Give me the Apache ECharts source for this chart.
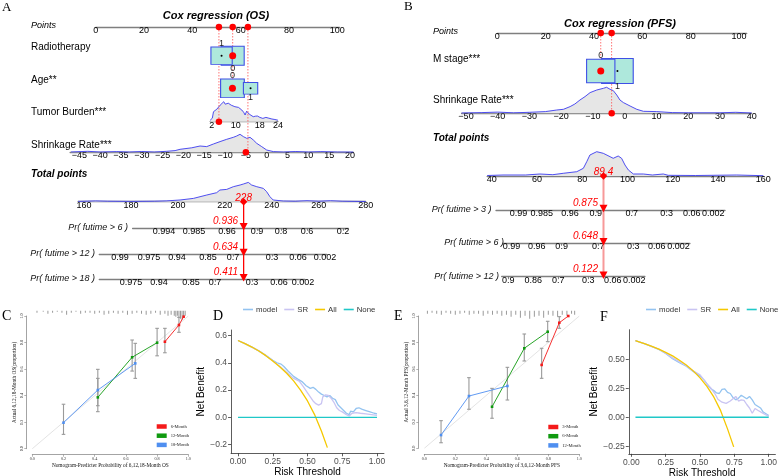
<!DOCTYPE html>
<html><head><meta charset="utf-8">
<script src="https://cdn.jsdelivr.net/npm/echarts@6/dist/echarts.min.js"></script>
<style>html,body{margin:0;padding:0;background:#fff}#c{width:778px;height:476px}</style>
</head><body><div id="c"></div>
<script>
// ================= DATA =================
// ---- Panel A : nomogram, Cox regression (OS)
const A_pointTicks = [0, 20, 40, 60, 80, 100];
const A_radioLevels = ['0', '1'];            // draw order (1 drawn on top)
const A_radioPoints = [56.7, 52.1];
const A_ageLevels = ['0', '1'];
const A_agePoints = [56.6, 64.1];
const A_tumorTicks = [2, 10, 18, 24];
const A_tumorDens = [[1.5,1.5],[2.2,3.5],[2.6,10],[3.1,9],[3.7,12.5],[4.2,13.5],[4.8,16.5],[5.4,17],[6.0,20],[6.5,17.5],[7.0,15.5],[7.5,18.5],[7.9,20],[8.5,16.5],[9.1,17.5],[9.7,15],[10.3,15.5],[10.9,14.3],[11.5,13.5],[12.0,11.7],[12.6,9.5],[13.1,6.7],[13.6,10.5],[14.0,11.5],[14.5,7.5],[15.0,6.5],[15.8,5],[16.5,5.5],[17.2,5.7],[18.0,4.3],[19.0,3.3],[20.0,4.3],[21.0,3.5],[22.0,2.7],[23.0,2.2],[24.0,1.5]];
const A_shrinkTicks = [-45, -40, -35, -30, -25, -20, -15, -10, -5, 0, 5, 10, 15, 20];
const A_shrinkDens = [[-47,0.3],[-43,1],[-40,0.3],[-36,0.7],[-33,0.3],[-30,0.8],[-27,0.3],[-24,1],[-22,1.7],[-20.8,3],[-18,4.5],[-16,6.3],[-14.4,5.7],[-12.8,8.3],[-11.2,10.7],[-9.6,13],[-8.0,15],[-7.2,16.3],[-6.4,18],[-5.6,15.7],[-4.8,14],[-4.0,15],[-3.2,12.3],[-2.4,9],[-1.2,5.7],[0,2.3],[1.6,0.7],[4,0.3],[7,0.8],[10,0.3],[13,0.7],[17,0.3],[20.8,0.2]];
const A_totalTicks = [160, 180, 200, 220, 240, 260, 280];
const A_totalDens = [[157.5,0.3],[165,0.8],[170,0.5],[180,0.3],[190,0.5],[195,0.8],[200.9,1.7],[206.6,3.3],[212.3,6.7],[216.5,9],[217.9,11.7],[220.8,12.3],[223.6,15],[226.5,16.7],[227.9,17.7],[230.0,19.3],[231.4,16.7],[233.6,15],[236.4,13.3],[237.8,10],[239.2,5],[240.6,1.7],[244.9,0.7],[250,0.5],[255,1],[260,0.5],[265,1],[270,0.5],[280,0.2]];
const A_prNames = ['Pr( futime > 6 )', 'Pr( futime > 12 )', 'Pr( futime > 18 )'];
const A_prRange = [[180.7, 272.6], [166.5, 263.4], [166.5, 254.1]];
const A_prPos = [[194.1, 206.9, 220.9, 233.7, 243.9, 255.0, 270.3],
                 [175.3, 187.7, 199.6, 212.8, 223.5, 240.1, 251.2, 262.7],
                 [180.0, 191.9, 205.6, 215.8, 231.6, 243.1, 253.3]];
const A_prLab = [['0.994','0.985','0.96','0.9','0.8','0.6','0.2'],
                 ['0.99','0.975','0.94','0.85','0.7','0.3','0.06','0.002'],
                 ['0.975','0.94','0.85','0.7','0.3','0.06','0.002']];
const A_selRadio = '0', A_selAge = '0', A_selTumor = 4.4, A_selShrink = -5;
const A_total = 228;
const A_pred = [0.936, 0.634, 0.411];
const A_markPts = [51.0, 56.7, 63.0];
const A_markRow = ['tumor', 'age', 'shrink'];

// ---- Panel B : nomogram, Cox regression (PFS)
const B_pointTicks = [0, 20, 40, 60, 80, 100];
const B_mLevels = ['1', '0'];                // draw order (0 drawn on top)
const B_mPoints = [49.7, 42.8];
const B_shrinkTicks = [-50, -40, -30, -20, -10, 0, 10, 20, 30, 40];
const B_shrinkDens = [[-51.4,0.3],[-45,0.7],[-40,1.2],[-35,0.5],[-30,1],[-25,1.7],[-21.4,3.3],[-19.3,4],[-17.2,6.7],[-15.7,9.3],[-14.1,13.3],[-12.5,16.7],[-10.9,20.7],[-8.8,23.3],[-6.7,25],[-5.7,26],[-4.6,24],[-3.6,22.7],[-2.5,18.3],[-1.5,13.3],[-0.4,10.7],[1.7,7.3],[3.8,4],[5.9,2],[10.1,1.7],[15,0.7],[20,0.5],[30,0.5],[35,1],[40,0.3]];
const B_totalTicks = [40, 60, 80, 100, 120, 140, 160];
const B_totalDens = [[38,0.5],[45,1],[55,1],[61.3,2],[67,1.3],[71.6,2.7],[77.6,4.3],[80.5,7.7],[82.0,14.3],[83.4,21],[86.4,24.3],[89.3,22.7],[92.3,19.3],[93.7,17.7],[95.9,20],[97.4,17.7],[98.9,11],[100.4,6],[102.6,2],[107,2],[111,1],[115.8,2],[118,0.7],[130,0.5],[148.3,1],[160,0.3]];
const B_prNames = ['Pr( futime > 3 )', 'Pr( futime > 6 )', 'Pr( futime > 12 )'];
const B_prRange = [[41.9, 143.1], [45.1, 127.6], [44.4, 107.7]];
const B_prPos = [[51.8, 62.1, 74.6, 86.0, 101.9, 117.3, 128.4, 137.9],
                 [48.8, 59.9, 70.9, 87.1, 102.6, 112.9, 122.5],
                 [47.3, 58.4, 69.4, 82.7, 93.5, 103.0]];
const B_prLab = [['0.99','0.985','0.96','0.9','0.7','0.3','0.06','0.002'],
                 ['0.99','0.96','0.9','0.7','0.3','0.06','0.002'],
                 ['0.9','0.86','0.7','0.3','0.06','0.002']];
const B_selM = '0', B_selShrink = -4.1;
const B_total = 89.4;
const B_pred = [0.875, 0.648, 0.122];
const B_markPts = [42.8, 47.3];
const B_markRow = ['m', 'shrink'];

// ---- Panel C : calibration OS
const C_names = ['6-Month', '12-Month', '18-Month'];
const C_pred = [[0.85, 0.94, 0.97], [0.42, 0.64, 0.80], [0.20, 0.42, 0.66]];
const C_obs  = [[0.806, 0.932, 0.995], [0.387, 0.689, 0.799], [0.196, 0.442, 0.643]];
const C_lo   = [[0.723, 0.877, null], [0.279, 0.585, 0.70], [0.108, 0.324, 0.53]];
const C_hi   = [[0.907, 0.99, null], [0.53, 0.819, 0.907], [0.335, 0.598, 0.794]];
const C_rugX = [0.03,0.07,0.1,0.13,0.16,0.19,0.22,0.25,0.28,0.31,0.34,0.37,0.4,0.43,0.46,0.49,0.52,0.55,0.58,0.61,0.64,0.67,0.7,0.73,0.76,0.79,0.82,0.85,0.87,0.89,0.91,0.92,0.93,0.94,0.95,0.96,0.97,0.98];
const C_rugH = [2,1,3,2,1,2,4,2,1,3,2,2,3,2,4,3,2,3,2,4,3,2,3,4,3,2,4,3,5,4,5,6,5,7,8,9,7,5];
const IDEAL = [[0, 0], [1, 1]];

// ---- Panel E : calibration PFS
const E_names = ['3-Month', '6-Month', '12-Month'];
const E_pred = [[0.757, 0.871, 0.929], [0.437, 0.645, 0.796], [0.108, 0.288, 0.536]];
const E_obs  = [[0.63, 0.949, 1.0], [0.314, 0.756, 0.881], [0.10, 0.395, 0.471]];
const E_lo   = [[0.529, 0.907, null], [0.227, 0.66, 0.806], [0.042, 0.295, 0.365]];
const E_hi   = [[0.756, 0.995, null], [0.453, 0.864, 0.96], [0.209, 0.534, 0.612]];
const E_rugX = [0.02,0.05,0.08,0.11,0.14,0.17,0.2,0.23,0.26,0.29,0.32,0.35,0.38,0.41,0.44,0.47,0.5,0.53,0.56,0.59,0.62,0.65,0.68,0.71,0.74,0.77,0.8,0.83,0.86,0.89,0.92,0.95,0.97];
const E_rugH = [3,2,3,4,2,3,4,3,2,4,3,3,5,3,4,3,5,4,6,4,7,5,8,6,5,7,4,5,6,4,5,3,4];

// ---- Panel D : DCA OS
const D_allT = [0, 0.05, 0.10, 0.15, 0.20, 0.25, 0.30, 0.35, 0.40, 0.45, 0.50, 0.55, 0.60, 0.643];
const D_allV = [0.563, 0.540, 0.515, 0.486, 0.452, 0.413, 0.371, 0.323, 0.267, 0.200, 0.120, 0.022, -0.100, -0.222];
const D_modelT = [0, 0.05, 0.10, 0.15, 0.20, 0.25, 0.28, 0.31, 0.33, 0.36, 0.40, 0.43, 0.46, 0.49, 0.52, 0.54, 0.56, 0.58, 0.60, 0.62, 0.64, 0.66, 0.68, 0.70, 0.72, 0.74, 0.76, 0.78, 0.80, 0.81, 0.83, 0.85, 0.87, 0.89, 0.92, 0.95, 0.98, 1.00];
const D_modelV = [0.563, 0.540, 0.515, 0.487, 0.454, 0.418, 0.400, 0.390, 0.372, 0.340, 0.300, 0.280, 0.262, 0.232, 0.212, 0.220, 0.205, 0.185, 0.170, 0.160, 0.150, 0.160, 0.140, 0.130, 0.090, 0.070, 0.050, 0.030, 0.020, 0.045, 0.040, 0.065, 0.070, 0.060, 0.050, 0.040, 0.030, 0.025];
const D_srT = [0, 0.05, 0.10, 0.15, 0.20, 0.25, 0.30, 0.35, 0.40, 0.44, 0.47, 0.50, 0.52, 0.54, 0.56, 0.58, 0.60, 0.61, 0.63, 0.65, 0.67, 0.69, 0.71, 0.73, 0.75, 0.78, 0.80, 0.82, 0.85, 0.88, 0.92, 0.96, 1.00];
const D_srV = [0.563, 0.540, 0.515, 0.487, 0.453, 0.415, 0.375, 0.330, 0.285, 0.265, 0.225, 0.180, 0.150, 0.120, 0.100, 0.090, 0.100, 0.150, 0.165, 0.160, 0.140, 0.110, 0.070, 0.050, 0.040, 0.020, 0.010, 0.030, 0.035, 0.030, 0.025, 0.020, 0.015];
const D_noneT = [0, 1];
const D_noneV = [0, 0];

// ---- Panel F : DCA PFS
const F_allT = [0.03, 0.05, 0.10, 0.15, 0.20, 0.25, 0.30, 0.35, 0.40, 0.45, 0.50, 0.55, 0.60, 0.65, 0.70, 0.745];
const F_allV = [0.660, 0.653, 0.633, 0.612, 0.588, 0.560, 0.529, 0.492, 0.450, 0.400, 0.340, 0.267, 0.175, 0.057, -0.100, -0.255];
const F_modelT = [0.03, 0.10, 0.20, 0.25, 0.30, 0.35, 0.40, 0.45, 0.50, 0.53, 0.56, 0.58, 0.60, 0.62, 0.64, 0.66, 0.68, 0.70, 0.72, 0.74, 0.76, 0.78, 0.80, 0.82, 0.84, 0.86, 0.88, 0.90, 0.92, 0.94, 0.96, 0.98, 1.00];
const F_modelV = [0.660, 0.632, 0.585, 0.550, 0.505, 0.470, 0.440, 0.395, 0.355, 0.320, 0.270, 0.245, 0.230, 0.210, 0.205, 0.240, 0.245, 0.215, 0.205, 0.170, 0.150, 0.165, 0.190, 0.175, 0.160, 0.180, 0.150, 0.110, 0.095, 0.080, 0.045, 0.030, 0.015];
const F_srT = [0.03, 0.10, 0.20, 0.25, 0.30, 0.35, 0.40, 0.45, 0.50, 0.55, 0.58, 0.61, 0.63, 0.66, 0.69, 0.72, 0.74, 0.76, 0.78, 0.80, 0.82, 0.84, 0.86, 0.88, 0.90, 0.92, 0.95, 0.98, 1.00];
const F_srV = [0.660, 0.632, 0.586, 0.553, 0.512, 0.480, 0.445, 0.400, 0.365, 0.290, 0.250, 0.200, 0.155, 0.130, 0.120, 0.140, 0.160, 0.180, 0.140, 0.150, 0.145, 0.110, 0.080, 0.035, 0.075, 0.060, 0.040, 0.020, 0.010];
const F_noneT = [0.03, 1];
const F_noneV = [0, 0];

// ================= STYLE / LAYOUT =================
const SANS = '"Liberation Sans", Arial, sans-serif';
const SERIF = '"Liberation Serif", "Times New Roman", serif';
const BOX_FILL = '#aee8dc', BOX_LINE = '#3f4fe6', DENS_LINE = '#3b3bef', DENS_FILL = '#e6e6e6';
const RED = '#ff0000';
const COL_DCA = { model: '#93c3f0', SR: '#c9c4f2', All: '#f5c800', None: '#20c8c8' };
const COL_CAL = ['#f41a1a', '#109a10', '#4f8ff0'];

const LA = {
  pts: { px0: 95.7, k: 2.416, max: 101, y: 27 },
  rowY: { radio: 55.7, age: 88.3, tumor: 121.7, shrink: 152.3 },
  radioBox: [[23, 19], [21.3, 17.3]], radioLabPos: ['bottom', 'top'],
  ageBox: [[23.7, 18.7], [14.3, 11.7]], ageLabPos: ['top', 'bottom'],
  tumor: { min: 1.5, max: 24, k: 3.01, ref: 2, refPx: 211.7, h: 21 },
  shrink: { min: -47.2, max: 20.8, k: 4.164, ref: -45, refPx: 79.3, h: 19 },
  total: { min: 157.5, max: 280, k: 2.3475, ref: 160, refPx: 84, y: 201.7, h: 20 },
  prY: [228.3, 254, 279.3], prLabRight: [128, 95, 95]
};
const LB = {
  pts: { px0: 497.3, k: 2.417, max: 103.2, y: 33 },
  rowY: { m: 71, shrink: 113.3 },
  mBox: [[31.6, 25], [28.3, 23.4]], mLabPos: ['bottom', 'top'],
  shrink: { min: -51.4, max: 40, k: 3.174, ref: -50, refPx: 466, h: 27 },
  total: { min: 38, max: 160, k: 2.263, ref: 40, refPx: 491.7, y: 176, h: 25 },
  prY: [210, 243.3, 276.7], prLabRight: [491.5, 504, 499]
};

// ================= BUILD =================
const grids = [], xAxes = [], yAxes = [], series = [], texts = [];
function addGrid(left, top, width, height, xa, ya) {
  grids.push({ left, top, width, height, show: false, containLabel: false, outerBoundsMode: 'none' });
  const i = grids.length - 1;
  xa.gridIndex = i; ya.gridIndex = i; xAxes.push(xa); yAxes.push(ya);
  return i;
}
const minus = v => (v < 0 ? '\u2212' + Math.abs(v) : String(v));
function nearestLabel(v, ticks, labels) {
  let bi = 0, bd = Infinity;
  ticks.forEach((t, i) => { const d = Math.abs(t - v); if (d < bd) { bd = d; bi = i; } });
  return labels[bi];
}
function nomoX(min, max, ticks, labels, tick) {
  return {
    type: 'value', min, max, position: 'bottom',
    axisLine: { show: true, onZero: false, lineStyle: { color: '#7f7f7f', width: 1.3 } },
    axisTick: { show: !!tick, customValues: ticks, length: 2.5, lineStyle: { color: '#666', width: 0.8 } },
    axisLabel: { show: true, customValues: ticks, margin: -1, fontSize: 9, fontFamily: SANS, color: '#000',
      formatter: labels ? (v => nearestLabel(v, ticks, labels)) : (v => minus(nearestLabel(v, ticks, ticks))) },
    splitLine: { show: false }
  };
}
const hiddenX = (min, max) => ({ type: 'value', min, max, show: false, axisLine: { onZero: false } });
const hiddenY = (min, max, inverse) => ({ type: 'value', min, max, show: false, inverse: !!inverse, axisLine: { onZero: false } });
function dens(gi, data) {
  return { type: 'line', xAxisIndex: gi, yAxisIndex: gi, data, symbol: 'none', silent: true, z: 1,
    lineStyle: { color: DENS_LINE, width: 0.9 }, areaStyle: { color: DENS_FILL, opacity: 1, origin: 'start' } };
}
function dots(gi, data, color, size, extra) {
  return Object.assign({ type: 'scatter', xAxisIndex: gi, yAxisIndex: gi, data, symbol: 'circle', symbolSize: size,
    itemStyle: { color, opacity: 1 }, silent: true, z: 5 }, extra || {});
}
function boxes(gi, levels, pts, sizes, labPos) {
  return { type: 'scatter', xAxisIndex: gi, yAxisIndex: gi, symbol: 'rect', silent: true, z: 3,
    itemStyle: { color: BOX_FILL, borderColor: BOX_LINE, borderWidth: 1, opacity: 1 },
    data: levels.map((lv, i) => ({ name: lv, value: [pts[i], 0.5], symbolSize: sizes[i],
      label: { show: true, position: labPos[i], distance: -1.5, formatter: '{b}', fontSize: 9, fontFamily: SANS, color: '#222' } })) };
}
function addText(t, x, y, font, align, color) {
  texts.push({ type: 'text', x, y, silent: true, z: 10,
    style: { text: t, font, fill: color || '#000', align: align || 'left', verticalAlign: 'middle',
      textAlign: align || 'left', textVerticalAlign: 'middle' } });
}
const F9i = 'italic 9px ' + SANS, F10 = '10px ' + SANS, FB = 'italic bold 10px ' + SANS;

function axisGrid(spec, ticks, baseline) {
  const left = spec.refPx + (spec.min - spec.ref) * spec.k;
  const width = (spec.max - spec.min) * spec.k;
  return addGrid(left, baseline - spec.h, width, spec.h, nomoX(spec.min, spec.max, ticks), hiddenY(0, spec.h));
}

function buildNomogram(L, P) {
  const ptsW = L.pts.max * L.pts.k;
  const gP = addGrid(L.pts.px0, L.pts.y - 2, ptsW, 2, nomoX(0, L.pts.max, P.pointTicks), hiddenY(0, 1));
  series.push(dots(gP, P.markPts.map(p => [p, 0]), RED, 6.5));
  series.push({ type: 'custom', xAxisIndex: gP, yAxisIndex: gP, silent: true, z: 2,
    data: P.markPts.map((p, i) => [p, i]),
    renderItem: (params, api) => {
      const c = api.coord([api.value(0), 0]);
      const y2 = L.rowY[P.markRow[api.value(1)]];
      return { type: 'line', shape: { x1: c[0], y1: c[1], x2: c[0], y2 },
        style: { stroke: '#ff5050', lineWidth: 0.8, lineDash: [1.5, 1.5] } };
    } });
  P.catRows.forEach(r => {
    const g = addGrid(L.pts.px0, r.y - 12.5, ptsW, 25, hiddenX(0, L.pts.max), hiddenY(0, 1));
    series.push(boxes(g, r.levels, r.points, r.sizes, r.labPos));
    series.push(dots(g, r.levels.map((lv, i) => lv === r.sel ? null : [r.points[i], 0.5]).filter(Boolean), '#000', 2));
    series.push(dots(g, r.levels.map((lv, i) => lv === r.sel ? [r.points[i], 0.5] : null).filter(Boolean), RED, 7));
  });
  P.contRows.forEach(r => {
    const g = axisGrid(r.spec, r.ticks, r.y);
    series.push(dens(g, r.dens));
    series.push(dots(g, [[r.sel, 0]], RED, 6.5));
  });
  const T = L.total;
  const gT = axisGrid(T, P.totalTicks, T.y);
  series.push(dens(gT, P.totalDens));
  series.push(dots(gT, [[P.total, 0]], RED, 7.5, { symbol: 'diamond',
    label: { show: true, position: 'inside', offset: [0, -3.5], formatter: String(P.total), fontSize: 10,
      fontStyle: 'italic', fontFamily: SANS, color: RED } }));
  const tpx = v => T.refPx + (v - T.ref) * T.k;
  P.prRange.forEach((rg, i) => {
    const g = addGrid(tpx(rg[0]), L.prY[i] - 2, (rg[1] - rg[0]) * T.k, 2,
      nomoX(rg[0], rg[1], P.prPos[i], P.prLab[i], true), hiddenY(0, 1));
    series.push(dots(g, [[P.total, 0]], RED, [8, 7.5], { symbol: 'triangle', symbolRotate: 180, symbolOffset: [0, -1.5], z: 6,
      label: { show: true, position: 'left', distance: 1.5, offset: [0, -5.5], formatter: P.pred[i].toFixed(3),
        fontSize: 10, fontStyle: 'italic', fontFamily: SANS, color: RED } }));
    addText(P.prNames[i], L.prLabRight[i], L.prY[i] - 0.5, F9i, 'right', '#111');
  });
  const last = L.prY[L.prY.length - 1];
  const gV = addGrid(tpx(T.min), T.y, (T.max - T.min) * T.k, last - T.y, hiddenX(T.min, T.max), hiddenY(0, 1, true));
  series.push({ type: 'line', xAxisIndex: gV, yAxisIndex: gV, data: [[P.total, 0], [P.total, 1]], symbol: 'none', silent: true, z: 4,
    lineStyle: { color: P.vColor, width: P.vWidth } });
}

buildNomogram(LA, {
  pointTicks: A_pointTicks, markPts: A_markPts, markRow: A_markRow,
  catRows: [
    { y: LA.rowY.radio, levels: A_radioLevels, points: A_radioPoints, sizes: LA.radioBox, labPos: LA.radioLabPos, sel: A_selRadio },
    { y: LA.rowY.age, levels: A_ageLevels, points: A_agePoints, sizes: LA.ageBox, labPos: LA.ageLabPos, sel: A_selAge }
  ],
  contRows: [
    { spec: LA.tumor, ticks: A_tumorTicks, y: LA.rowY.tumor, dens: A_tumorDens, sel: A_selTumor },
    { spec: LA.shrink, ticks: A_shrinkTicks, y: LA.rowY.shrink, dens: A_shrinkDens, sel: A_selShrink }
  ],
  totalTicks: A_totalTicks, totalDens: A_totalDens, total: A_total,
  prRange: A_prRange, prPos: A_prPos, prLab: A_prLab, prNames: A_prNames, pred: A_pred,
  vColor: RED, vWidth: 1.3
});
buildNomogram(LB, {
  pointTicks: B_pointTicks, markPts: B_markPts, markRow: B_markRow,
  catRows: [
    { y: LB.rowY.m, levels: B_mLevels, points: B_mPoints, sizes: LB.mBox, labPos: LB.mLabPos, sel: B_selM }
  ],
  contRows: [
    { spec: LB.shrink, ticks: B_shrinkTicks, y: LB.rowY.shrink, dens: B_shrinkDens, sel: B_selShrink }
  ],
  totalTicks: B_totalTicks, totalDens: B_totalDens, total: B_total,
  prRange: B_prRange, prPos: B_prPos, prLab: B_prLab, prNames: B_prNames, pred: B_pred,
  vColor: 'rgba(240,70,70,0.55)', vWidth: 2
});

addText('A', 2, 8, '13px ' + SERIF);
addText('Cox regression (OS)', 216, 16, 'italic bold 11px ' + SANS, 'center');
addText('Points', 31, 25, F9i);
addText('Radiotherapy', 31, 47, F10);
addText('Age**', 31, 80, F10);
addText('Tumor Burden***', 31, 112, F10);
addText('Shrinkage Rate***', 31, 145, F10);
addText('Total points', 31, 174, FB);
addText('B', 404, 7, '13px ' + SERIF);
addText('Cox regression (PFS)', 620, 24, 'italic bold 11px ' + SANS, 'center');
addText('Points', 433, 31.5, F9i);
addText('M stage***', 433, 59, F10);
addText('Shrinkage Rate***', 433, 100, F10);
addText('Total points', 433, 138.3, FB);
addText('C', 2, 316, '14px ' + SERIF);
addText('D', 213, 316, '14px ' + SERIF);
addText('E', 394, 316, '14px ' + SERIF);
addText('F', 600, 317, '14px ' + SERIF);

// ---- calibration panels
const legends = [];
function errRender(params, api) {
  const x = api.value(0), lo = api.value(1), hi = api.value(2);
  const a = api.coord([x, lo]), b = api.coord([x, hi]), cap = 1.8;
  const st = { stroke: '#9a9a9a', lineWidth: 1.1 };
  return { type: 'group', children: [
    { type: 'line', shape: { x1: a[0], y1: a[1], x2: b[0], y2: b[1] }, style: st },
    { type: 'line', shape: { x1: a[0] - cap, y1: a[1], x2: a[0] + cap, y2: a[1] }, style: st },
    { type: 'line', shape: { x1: b[0] - cap, y1: b[1], x2: b[0] + cap, y2: b[1] }, style: st } ] };
}
function calPanel(tag, geo, names, pred, obs, lo, hi, rugX, rugH, xName, yName, legPos) {
  const tiny = { fontSize: 4.2, fontFamily: SERIF, color: '#333' };
  const g = addGrid(geo.left, geo.top, geo.width, geo.height,
    { type: 'value', min: 0, max: 1, interval: 0.2, offset: 6, position: 'bottom',
      name: xName, nameLocation: 'middle', nameGap: 8.5, nameTextStyle: { fontSize: 5.3, fontFamily: SERIF, color: '#111' },
      axisLine: { show: true, onZero: false, lineStyle: { color: '#666', width: 0.6 } },
      axisTick: { show: true, length: 2, lineStyle: { color: '#666', width: 0.5 } },
      axisLabel: Object.assign({ margin: 2.5, formatter: v => v.toFixed(1) }, tiny), splitLine: { show: false } },
    { type: 'value', min: 0, max: 1, interval: 0.2, offset: 6, position: 'left',
      name: yName, nameLocation: 'middle', nameGap: 9, nameRotate: 90, nameTextStyle: { fontSize: 5.3, fontFamily: SERIF, color: '#111' },
      axisLine: { show: true, onZero: false, lineStyle: { color: '#666', width: 0.6 } },
      axisTick: { show: true, length: 2, lineStyle: { color: '#666', width: 0.5 } },
      axisLabel: Object.assign({ margin: 2.5, rotate: 90, formatter: v => v.toFixed(1) }, tiny), splitLine: { show: false } });
  series.push({ type: 'line', xAxisIndex: g, yAxisIndex: g, data: IDEAL, symbol: 'none', silent: true, z: 1,
    lineStyle: { color: '#dcdcdc', width: 0.8 } });
  names.forEach((nm, k) => {
    const eb = pred[k].map((p, i) => lo[k][i] == null ? null : [p, lo[k][i], hi[k][i]]).filter(Boolean);
    series.push({ type: 'custom', xAxisIndex: g, yAxisIndex: g, data: eb, renderItem: errRender, silent: true, z: 2 });
  });
  names.forEach((nm, k) => {
    series.push({ type: 'line', name: tag + '|' + nm, xAxisIndex: g, yAxisIndex: g, silent: true, z: 3,
      data: pred[k].map((p, i) => [p, obs[k][i]]), symbol: 'rect', symbolSize: 2.6, showSymbol: true,
      lineStyle: { color: COL_CAL[k], width: 0.9 }, itemStyle: { color: COL_CAL[k] } });
  });
  const gr = addGrid(geo.left, geo.top - 5.3, geo.width, 10, hiddenX(0, 1), hiddenY(0, 10, true));
  series.push({ type: 'bar', xAxisIndex: gr, yAxisIndex: gr, data: rugX.map((x, i) => [x, rugH[i]]), barWidth: 0.6,
    silent: true, itemStyle: { color: '#9a9a9a' } });
  legends.push({ data: names.map(n => tag + '|' + n), orient: 'vertical', left: legPos[0], top: legPos[1],
    icon: 'rect', itemWidth: 10, itemHeight: 4.5, itemGap: 4.2, selectedMode: false,
    formatter: n => n.split('|')[1], textStyle: { fontSize: 4.6, fontFamily: SERIF, color: '#222', padding: [0, 0, 0, -1] } });
}
calPanel('C', { left: 32.3, top: 316, width: 156, height: 132.7 }, C_names, C_pred, C_obs, C_lo, C_hi, C_rugX, C_rugH,
  'Nomogram-Predicter Probability of 6,12,18-Month OS', 'Actual 6,12,18-Month OS(proportion)', [151.7, 419]);
calPanel('E', { left: 424.3, top: 316, width: 155, height: 132.3 }, E_names, E_pred, E_obs, E_lo, E_hi, E_rugX, E_rugH,
  'Nomogram-Predicter Probability of 3,6,12-Month PFS', 'Actual 3,6,12-Month PFS(proportion)', [543.3, 419.5]);

// ---- DCA panels
function dcaPanel(geo, xr, yr, yTicks, yDec, sets, legLeft, yNameGap) {
  const g = addGrid(geo.left, geo.top, geo.width, geo.height,
    { type: 'value', min: xr[0], max: xr[1], position: 'bottom',
      name: 'Risk Threshold', nameLocation: 'middle', nameGap: 14, nameTextStyle: { fontSize: 10, fontFamily: SANS, color: '#000' },
      axisLine: { show: true, onZero: false, lineStyle: { color: '#333', width: 0.8 } },
      axisTick: { show: true, customValues: [0, 0.25, 0.5, 0.75, 1], length: 3, lineStyle: { color: '#333', width: 0.8 } },
      axisLabel: { customValues: [0, 0.25, 0.5, 0.75, 1], margin: 4, fontSize: 8.5, fontFamily: SANS, color: '#4d4d4d', formatter: v => v.toFixed(2) },
      splitLine: { show: false } },
    { type: 'value', min: yr[0], max: yr[1], position: 'left',
      name: 'Net Benefit', nameLocation: 'middle', nameGap: yNameGap, nameRotate: 90, nameTextStyle: { fontSize: 10, fontFamily: SANS, color: '#000' },
      axisLine: { show: true, onZero: false, lineStyle: { color: '#333', width: 0.8 } },
      axisTick: { show: true, customValues: yTicks, length: 3, lineStyle: { color: '#333', width: 0.8 } },
      axisLabel: { customValues: yTicks, margin: 4, fontSize: 8.5, fontFamily: SANS, color: '#4d4d4d',
        formatter: v => (v < 0 ? '\u2212' : '') + Math.abs(v).toFixed(yDec) },
      splitLine: { show: false } });
  ['model', 'SR', 'All', 'None'].forEach(nm => {
    const s = sets[nm];
    series.push({ type: 'line', name: nm, xAxisIndex: g, yAxisIndex: g, data: s[0].map((t, i) => [t, s[1][i]]),
      symbol: 'none', silent: true, z: 3, lineStyle: { color: COL_DCA[nm], width: 1.3 }, itemStyle: { color: COL_DCA[nm] } });
  });
  legends.push({ data: ['model', 'SR', 'All', 'None'], orient: 'horizontal', left: legLeft, top: 305.5, width: 160,
    icon: 'rect', itemWidth: 10, itemHeight: 1.6, itemGap: 7, selectedMode: false, padding: 0,
    textStyle: { fontSize: 7.8, fontFamily: SANS, color: '#333', padding: [0, 0, 0, -2] } });
}
dcaPanel({ left: 231.05, top: 330, width: 152.9, height: 123.3 }, [-0.05, 1.05], [-0.2635, 0.64], [-0.2, 0, 0.2, 0.4, 0.6], 1,
  { model: [D_modelT, D_modelV], SR: [D_srT, D_srV], All: [D_allT, D_allV], None: [D_noneT, D_noneV] }, 243, 21);
dcaPanel({ left: 628.8, top: 329.7, width: 146.6, height: 124.1 }, [-0.0185, 1.0485], [-0.315, 0.755], [-0.25, 0, 0.25, 0.5], 2,
  { model: [F_modelT, F_modelV], SR: [F_srT, F_srV], All: [F_allT, F_allV], None: [F_noneT, F_noneV] }, 646, 25);

const chart = echarts.init(document.getElementById('c'), null, { renderer: 'canvas' });
chart.setOption({
  backgroundColor: '#ffffff', animation: false,
  textStyle: { fontFamily: SANS },
  grid: grids, xAxis: xAxes, yAxis: yAxes, series, legend: legends,
  graphic: { elements: texts }
});
</script></body></html>
